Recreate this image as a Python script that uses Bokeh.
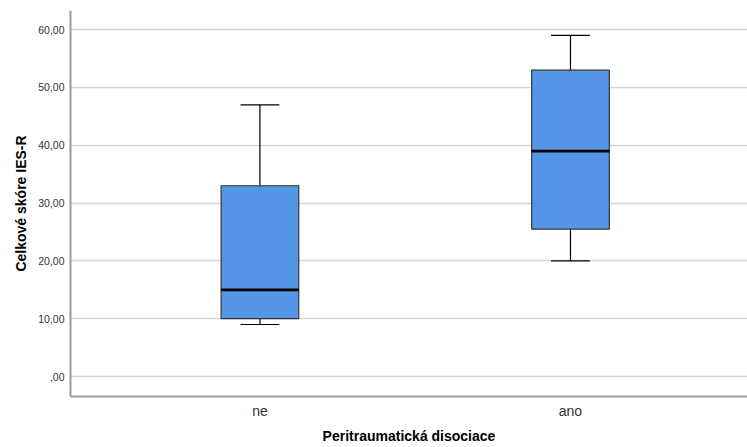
from bokeh.plotting import figure
from bokeh.models import ColumnDataSource, FixedTicker, Range1d
from bokeh.embed import file_html
from bokeh.resources import INLINE

# ---- data ----
categories = ["ne", "ano"]
whisker_low = [9, 20]
q1 = [10, 25.5]
median = [15, 39]
q3 = [33, 53]
whisker_high = [47, 59]

y_ticks = [0, 10, 20, 30, 40, 50, 60]
y_tick_labels = [",00", "10,00", "20,00", "30,00", "40,00", "50,00", "60,00"]

x_title = "Peritraumatická disociace"
y_title = "Celkové skóre IES-R"

# ---- build ----
xpos = [i + 1 for i in range(len(categories))]
box_w = 0.25
cap_w = box_w / 2

src = ColumnDataSource(dict(
    x=xpos,
    low=whisker_low, q1=q1, med=median, q3=q3, high=whisker_high,
    box_l=[x - box_w / 2 for x in xpos], box_r=[x + box_w / 2 for x in xpos],
    cap_l=[x - cap_w / 2 for x in xpos], cap_r=[x + cap_w / 2 for x in xpos],
))

p = figure(width=747, height=447, output_backend="svg", toolbar_location=None,
           x_range=Range1d(0.39, 2.57), y_range=Range1d(-3.46, 63.32),
           min_border_left=70, min_border_right=0, min_border_top=10, min_border_bottom=51)
p.outline_line_color = None
p.background_fill_color = "white"
p.border_fill_color = "white"

# grid
p.xgrid.grid_line_color = None
p.ygrid.grid_line_color = "#d6d6d6"
p.ygrid.grid_line_width = 1.5
p.ygrid.ticker = FixedTicker(ticks=y_ticks)

# whiskers
p.segment(x0="x", y0="q3", x1="x", y1="high", source=src, line_color="black", line_width=1.2)
p.segment(x0="x", y0="low", x1="x", y1="q1", source=src, line_color="black", line_width=1.2)
p.segment(x0="cap_l", y0="high", x1="cap_r", y1="high", source=src, line_color="black", line_width=1.2)
p.segment(x0="cap_l", y0="low", x1="cap_r", y1="low", source=src, line_color="black", line_width=1.2)

# boxes
p.quad(left="box_l", right="box_r", bottom="q1", top="q3", source=src,
       fill_color="#5595E5", line_color="#333333", line_width=1.2)
# median
p.segment(x0="box_l", y0="med", x1="box_r", y1="med", source=src, line_color="black", line_width=2.8)

# axes
font = "Liberation Sans"
p.xaxis.ticker = FixedTicker(ticks=xpos)
p.xaxis.major_label_overrides = {x: c for x, c in zip(xpos, categories)}
p.yaxis.ticker = FixedTicker(ticks=y_ticks)
p.yaxis.major_label_overrides = {t: l for t, l in zip(y_ticks, y_tick_labels)}

for ax in (p.xaxis[0], p.yaxis[0]):
    ax.axis_line_color = "#9a9a9a"
    ax.axis_line_width = 2
    ax.major_tick_line_color = None
    ax.minor_tick_line_color = None
    ax.major_tick_out = 0
    ax.major_tick_in = 0
    ax.major_label_text_font = font
    ax.major_label_text_color = "#333333"
    ax.axis_label_text_font = font
    ax.axis_label_text_font_style = "bold"
    ax.axis_label_text_color = "black"
    ax.axis_label_text_font_size = "14px"

p.xaxis.major_label_text_font_size = "14px"
p.yaxis.major_label_text_font_size = "10.5px"
p.xaxis.major_label_standoff = 6
p.yaxis.major_label_standoff = 6
p.xaxis.axis_label = x_title
p.yaxis.axis_label = y_title
p.xaxis.axis_label_standoff = 6
p.yaxis.axis_label_standoff = 6

open("out.html", "w").write(file_html(p, INLINE))
